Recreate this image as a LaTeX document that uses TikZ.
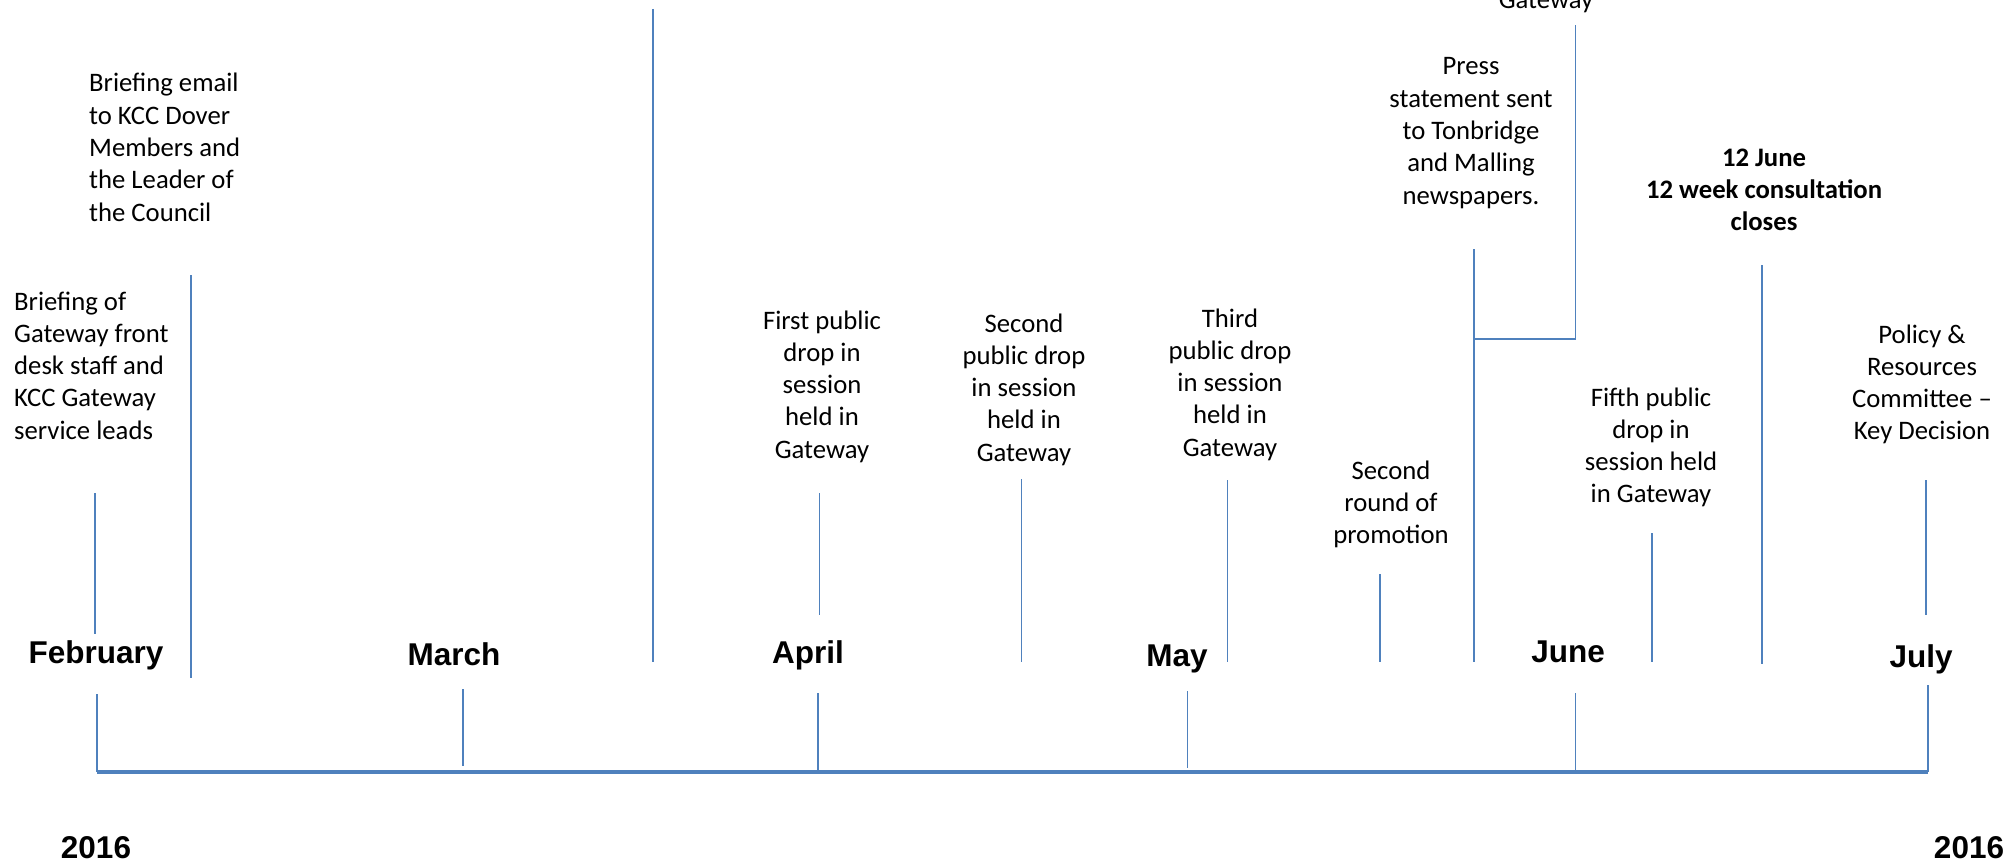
\documentclass[tikz,border=0pt]{standalone}
\usepackage{fontspec}
\setmainfont{Carlito}
\newfontfamily\arialfont{Liberation Sans}
\definecolor{tlblue}{HTML}{4F81BD}
\newcommand{\evtxt}{\fontsize{26.7}{32.3}\selectfont}
\newcommand{\ctab}[1]{\begin{tabular}[t]{@{}c@{}}#1\end{tabular}}
\newcommand{\ltab}[1]{\begin{tabular}[t]{@{}l@{}}#1\end{tabular}}
\tikzset{
  evt/.style={inner sep=0pt, anchor=base, font=\evtxt},
  evtl/.style={inner sep=0pt, anchor=base west, font=\evtxt},
  month/.style={inner sep=0pt, anchor=base, font=\arialfont\bfseries\fontsize{31.5}{36}\selectfont},
  thin/.style={draw=tlblue, line width=1.5pt},
  axis/.style={draw=tlblue, line width=4pt}
}
\begin{document}
\begin{tikzpicture}[x=1pt,y=-1pt]
\useasboundingbox (0,0) rectangle (2013,864);
\clip (0,0) rectangle (2013,864);

% main axis
\coordinate (axL) at (97,772);
\coordinate (axR) at (1928,772);
\draw[axis] (axL) -- (axR);

% month ticks
\draw[thin] (97,694) -- (97,772);
\draw[thin] (463,689) -- (463,766);
\draw[thin] (818,693) -- (818,771);
\draw[thin] (1187.5,691) -- (1187.5,768);
\draw[thin] (1575.5,693) -- (1575.5,771);
\draw[thin] (1928,685) -- (1928,772);

% month labels
\node[month] (feb) at (96,663) {February};
\node[month] (mar) at (454,665) {March};
\node[month] (apr) at (808,663) {April};
\node[month] (may) at (1177,666) {May};
\node[month] (jun) at (1568,662) {June};
\node[month] (jul) at (1921,667) {July};
\node[month] (y1) at (96,858) {2016};
\node[month] (y2) at (1969,858) {2016};

% event lines
\draw[thin] (95,493) -- (95,634);
\draw[thin] (191,275) -- (191,678);
\draw[thin] (653,9) -- (653,662);
\draw[thin] (819.5,493) -- (819.5,615);
\draw[thin] (1021.5,479) -- (1021.5,662);
\draw[thin] (1227.5,480) -- (1227.5,662);
\draw[thin] (1380,574) -- (1380,662);
\draw[thin] (1474,249) -- (1474,662);
\draw[thin] (1474,339) -- (1575.5,339) -- (1575.5,25);
\draw[thin] (1762,265) -- (1762,664);
\draw[thin] (1652,533) -- (1652,662);
\draw[thin] (1926,480) -- (1926,615);

% event texts
\node[evtl] (ea) at (14,310) {\ltab{Briefing of\\Gateway front\\desk staff and\\KCC Gateway\\service leads}};
\node[evtl] (eb) at (89,92) {\ltab{Briefing email\\to KCC Dover\\Members and\\the Leader of\\the Council}};
\node[evt] (ec) at (822,329) {\ctab{First public\\drop in\\session\\held in\\Gateway}};
\node[evt] (ed) at (1024,332) {\ctab{Second\\public drop\\in session\\held in\\Gateway}};
\node[evt] (ee) at (1230,327) {\ctab{Third\\public drop\\in session\\held in\\Gateway}};
\node[evt] (ef) at (1391,479) {\ctab{Second\\round of\\promotion}};
\node[evt] (eg) at (1471,75) {\ctab{Press\\statement sent\\to Tonbridge\\and Malling\\newspapers.}};
\node[evt] (eh) at (1546,9) {Gateway};
\node[evt, font=\evtxt\bfseries] (ei) at (1764,166) {\ctab{12 June\\12 week consultation\\closes}};
\node[evt] (ej) at (1651,406) {\ctab{Fifth public\\drop in\\session held\\in Gateway}};
\node[evt] (ek) at (1922,343) {\ctab{Policy \&\\Resources\\Committee --\\Key Decision}};
\end{tikzpicture}
\end{document}
